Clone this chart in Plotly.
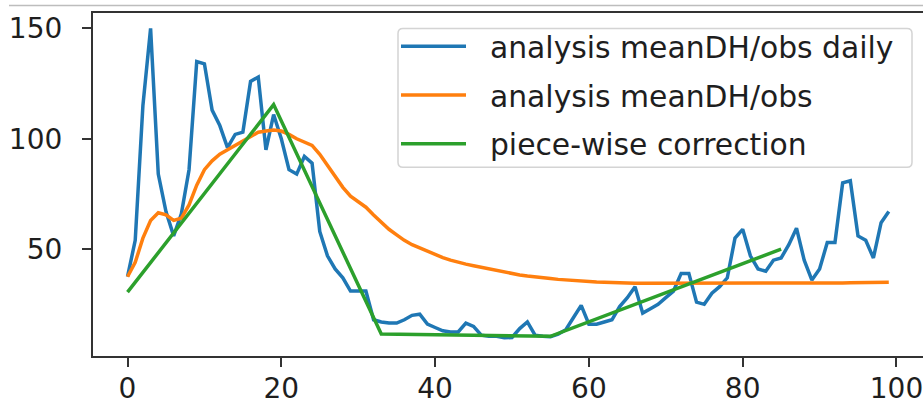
import plotly.graph_objects as go

days = list(range(100))

daily = [37.5, 54, 115, 150, 84, 67, 56, 66, 86, 135,
         134, 113, 106, 96, 102, 103, 126, 128, 95, 111,
         100, 86, 84, 92, 89, 58, 47, 41, 37, 31,
         31, 31, 18, 17, 16.5, 16.5, 18, 20, 20.5, 16,
         14.5, 13, 12.5, 12.5, 16.5, 15, 11, 10.5, 10.5, 9.8,
         10, 14, 17, 11, 10.5, 10.3, 11.5, 13.5, 19, 24.5,
         16, 16, 17, 18, 24, 28, 33, 21, 23, 25,
         28, 31, 39, 39, 26, 25, 30, 33, 37, 55,
         59, 47, 41, 40, 45, 46, 52, 59.5, 45, 36,
         41, 53, 53, 80, 81, 56, 54, 46, 62, 67]

mean_obs = [37.5, 44, 55, 63, 66.5, 65.5, 63, 64, 70, 79,
            86, 90, 93, 95, 97, 99, 101, 103, 103.5, 104,
            103.5, 102, 100, 98.5, 97, 93, 88, 83, 78, 74,
            71.5, 69, 65.5, 62, 59, 56.5, 54, 52, 50.5, 49,
            47.5, 46.2, 45, 44, 43.2, 42.5, 41.8, 41, 40.2, 39.4,
            38.8, 38.3, 37.8, 37.3, 37, 36.7, 36.3, 36, 35.8, 35.5,
            35.3, 35.1, 35, 34.8, 34.7, 34.6, 34.5, 34.5, 34.5, 34.5,
            34.5, 34.5, 34.4, 34.4, 34.4, 34.4, 34.4, 34.4, 34.4, 34.4,
            34.4, 34.4, 34.4, 34.5, 34.5, 34.5, 34.5, 34.5, 34.5, 34.6,
            34.6, 34.6, 34.7, 34.7, 34.8, 34.8, 34.9, 34.9, 35, 35]

corr_x = [0, 19, 33, 55, 85]
corr_y = [30.5, 115.5, 11.5, 10.5, 50]

names = ["analysis meanDH/obs daily", "analysis meanDH/obs", "piece-wise correction"]
colors = ["#1f77b4", "#ff7f0e", "#2ca02c"]

FONT = "DejaVu Sans"
NB = "\u00a0\u00a0"
fig = go.Figure()
for i, (xs, ys) in enumerate([(days, daily), (days, mean_obs), (corr_x, corr_y)]):
    fig.add_trace(go.Scatter(x=xs, y=ys, mode="lines", name=NB + names[i],
                             line=dict(color=colors[i], width=3.5),
                             legendgroup=str(i)))

L, T, B = 93, 12.5, 44
W, H = 923, 400
pw = W - L
ph = H - T - B


def px_x(p):
    return (p - L) / pw


def px_y(p):
    return 1 - (p - T) / ph


fig.update_layout(
    width=W, height=H,
    margin=dict(l=L, r=0, t=T, b=B, pad=0, autoexpand=False),
    paper_bgcolor="white", plot_bgcolor="white",
    font=dict(family=FONT, size=28, color="#1e1e1e"),
    showlegend=True,
    legend=dict(x=px_x(396), y=px_y(20), xanchor="left", yanchor="top",
                bgcolor="rgba(0,0,0,0)", borderwidth=0,
                font=dict(family=FONT, size=29.8, color="#1e1e1e"),
                tracegroupgap=7, itemwidth=65),
    xaxis=dict(range=[-4.49, 103.45], tickvals=[0, 20, 40, 60, 80, 100],
               automargin=False, ticklabeloverflow="allow", ticklabelstandoff=-3,
               showgrid=False, zeroline=False, showline=True, mirror=True,
               linecolor="#333333", linewidth=2.2,
               ticks="outside", ticklen=9, tickwidth=2, tickcolor="#333333",
               tickfont=dict(family=FONT, size=28, color="#1e1e1e")),
    yaxis=dict(range=[1.58, 157.0], tickvals=[50, 100, 150],
               automargin=False, ticklabelstandoff=14,
               showgrid=False, zeroline=False, showline=True, mirror=False,
               linecolor="#333333", linewidth=2.2,
               ticks="outside", ticklen=9, tickwidth=2, tickcolor="#333333",
               tickfont=dict(family=FONT, size=28, color="#1e1e1e")),
)

# legend frame (rounded rectangle)
bx0, bx1, by0, by1, r = 398, 912, 28, 167, 5
X0, X1 = px_x(bx0), px_x(bx1)
Y0, Y1 = px_y(by0), px_y(by1)
rx, ry = r / pw, r / ph
path = (f"M{X0+rx},{Y0} L{X1-rx},{Y0} Q{X1},{Y0} {X1},{Y0-ry} "
        f"L{X1},{Y1+ry} Q{X1},{Y1} {X1-rx},{Y1} L{X0+rx},{Y1} "
        f"Q{X0},{Y1} {X0},{Y1+ry} L{X0},{Y0-ry} Q{X0},{Y0} {X0+rx},{Y0} Z")
fig.add_shape(type="path", xref="paper", yref="paper", path=path,
              fillcolor="white", line=dict(color="#d4d4d4", width=1.5), layer="above")

# thin grey border line above the axes
fig.add_shape(type="line", xref="paper", yref="paper",
              x0=px_x(9), x1=1.0, y0=px_y(5), y1=px_y(5),
              line=dict(color="#bdbdbd", width=1.5), layer="above")

fig.write_html("out.html", config={"displayModeBar": False},
               post_script="document.body.style.margin='0';")
